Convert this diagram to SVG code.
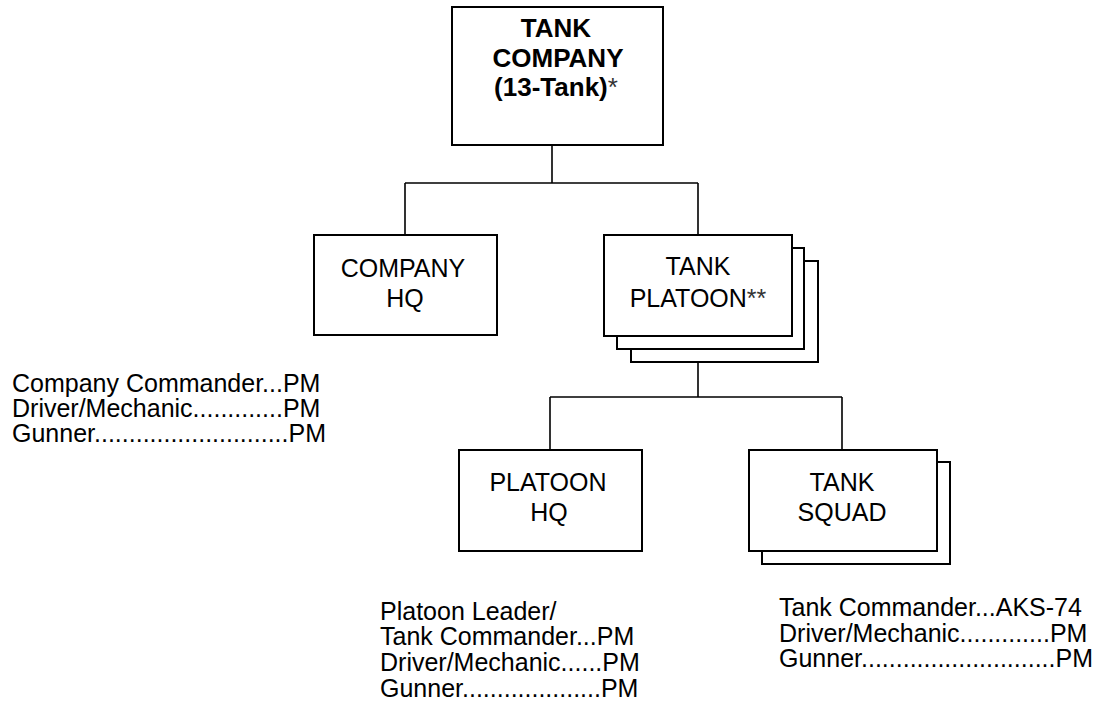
<svg xmlns="http://www.w3.org/2000/svg" width="1099" height="705" viewBox="0 0 1099 705">
<style>
  .box{fill:#fff;stroke:#000;stroke-width:2}
  .ln{fill:none;stroke:#000;stroke-width:1.6}
  text{font-family:"Liberation Sans",Arial,sans-serif;font-size:25px;fill:#000}
  .c{text-anchor:middle}
  .b{font-weight:bold;font-size:26px}
  .ast{font-weight:normal;fill:#333}
</style>
<rect width="1099" height="705" fill="#fff"/>
<g id="connectors">
  <path class="ln" d="M552 145 V183 M405 183 H698 M405 183 V235 M698 183 V235"/>
  <path class="ln" d="M698 362 V397 M550 397 H842 M550 397 V450 M842 397 V450"/>
</g>
<g id="tank-company">
  <rect class="box" x="452" y="7" width="211" height="138"/>
  <text class="c b" x="556" y="37">TANK</text>
  <text class="c b" x="558" y="67">COMPANY</text>
  <text class="c b" x="556" y="96">(13-Tank)<tspan class="ast">*</tspan></text>
</g>
<g id="company-hq">
  <rect class="box" x="314" y="235" width="183" height="100"/>
  <text class="c" x="403" y="277">COMPANY</text>
  <text class="c" x="405" y="307">HQ</text>
</g>
<g id="tank-platoon">
  <rect class="box" x="631" y="261" width="187" height="101"/>
  <rect class="box" x="617" y="248" width="187" height="101"/>
  <rect class="box" x="604" y="235" width="188" height="101"/>
  <text class="c" x="698" y="275">TANK</text>
  <text class="c" x="698" y="307">PLATOON<tspan class="ast">**</tspan></text>
</g>
<g id="platoon-hq">
  <rect class="box" x="459" y="450" width="183" height="101"/>
  <text class="c" x="548" y="491">PLATOON</text>
  <text class="c" x="549" y="521">HQ</text>
</g>
<g id="tank-squad">
  <rect class="box" x="762" y="462" width="188" height="102"/>
  <rect class="box" x="749" y="450" width="188" height="101"/>
  <text class="c" x="842" y="491">TANK</text>
  <text class="c" x="842" y="521">SQUAD</text>
</g>
<g id="company-hq-roster">
  <text x="12" y="392">Company Commander...PM<tspan x="12" dy="25">Driver/Mechanic.............PM</tspan><tspan x="12" dy="25">Gunner............................PM</tspan></text>
</g>
<g id="platoon-hq-roster">
  <text x="380" y="620">Platoon Leader/<tspan x="380" dy="25">Tank Commander...PM</tspan><tspan x="380" dy="26">Driver/Mechanic......PM</tspan><tspan x="380" dy="26">Gunner....................PM</tspan></text>
</g>
<g id="tank-squad-roster">
  <text x="779" y="616">Tank Commander...AKS-74<tspan x="779" dy="26">Driver/Mechanic.............PM</tspan><tspan x="779" dy="25">Gunner............................PM</tspan></text>
</g>
</svg>
